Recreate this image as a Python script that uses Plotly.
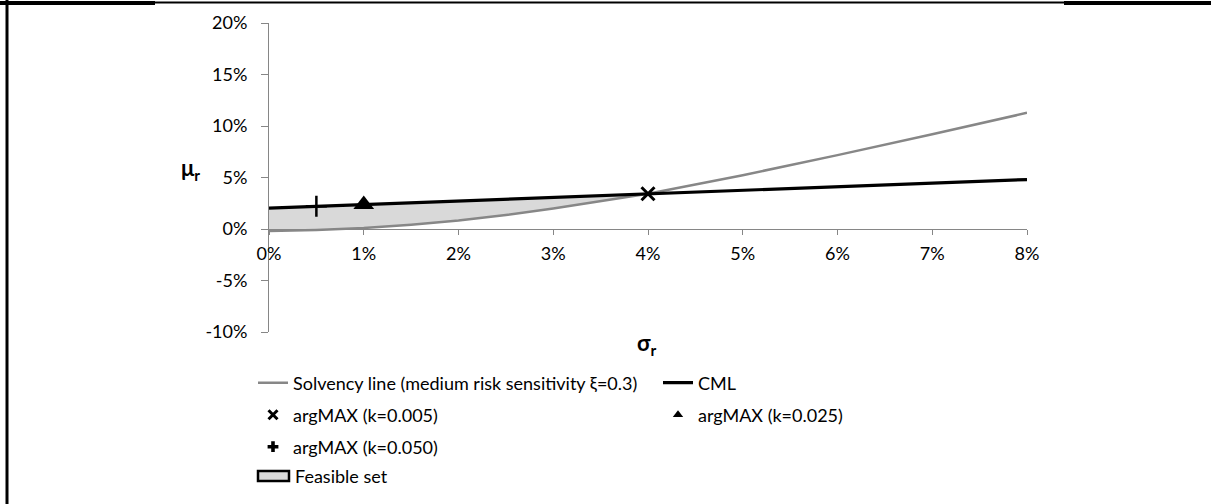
import plotly.graph_objects as go

# ---- data (in percent) ----
solv_sigma = [0, 0.5, 1, 1.5, 2, 2.5, 3, 3.5, 4, 5, 6, 7, 8]
solv_mu = [-0.2, -0.1, 0.1, 0.42, 0.82, 1.36, 1.98, 2.68, 3.42, 5.22, 7.17, 9.2, 11.28]

cml_sigma = [0, 4, 8]
cml_mu = [2.02, 3.42, 4.8]

arg_005 = (4.0, 3.42)
arg_025 = (1.0, 2.37)
arg_050 = (0.5, 2.2)

x_ticks = [0, 1, 2, 3, 4, 5, 6, 7, 8]
x_ticktext = ["0%", "1%", "2%", "3%", "4%", "5%", "6%", "7%", "8%"]
y_ticks = [-10, -5, 0, 5, 10, 15, 20]
y_ticktext = ["-10%", "-5%", "0%", "5%", "10%", "15%", "20%"]

name_solv = "Solvency line (medium risk sensitivity ξ=0.3)"
name_cml = "CML"
name_005 = "argMAX (k=0.005)"
name_025 = "argMAX (k=0.025)"
name_050 = "argMAX (k=0.050)"
name_feas = "Feasible set"

FONT = "Lato"
FS = 18
AXIS_COL = "#868686"
FILL_COL = "#d9d9d9"
SOLV_COL = "#878787"

# feasible region polygon: CML from 0..4 then solvency line back 4..0
cap = arg_005[0]
poly_x = [s for s in cml_sigma if s <= cap] + [s for s in solv_sigma if s <= cap][::-1]
poly_y = [m for s, m in zip(cml_sigma, cml_mu) if s <= cap] + \
         [m for s, m in zip(solv_sigma, solv_mu) if s <= cap][::-1]

fig = go.Figure()

# actual marks
fig.add_trace(go.Scatter(x=poly_x, y=poly_y, fill="toself", fillcolor=FILL_COL,
                         mode="none", showlegend=False, hoverinfo="skip", name=name_feas))
fig.add_trace(go.Scatter(x=solv_sigma, y=solv_mu, mode="lines",
                         line=dict(color=SOLV_COL, width=2.5), showlegend=False))
fig.add_trace(go.Scatter(x=cml_sigma, y=cml_mu, mode="lines",
                         line=dict(color="black", width=3.2), showlegend=False))
fig.add_trace(go.Scatter(x=[arg_005[0]], y=[arg_005[1]], mode="markers",
                         marker=dict(symbol="x-thin", size=13, line=dict(color="black", width=3)),
                         showlegend=False))
fig.add_trace(go.Scatter(x=[arg_025[0]], y=[arg_025[1]], mode="markers",
                         marker=dict(symbol="triangle-up", size=18, color="black"),
                         showlegend=False))
fig.add_trace(go.Scatter(x=[arg_050[0]], y=[arg_050[1]], mode="markers",
                         marker=dict(symbol="cross-thin", size=15, line=dict(color="black", width=2.5)),
                         showlegend=False))

# legend entries (legend-only traces)
fig.add_trace(go.Scatter(x=[None], y=[None], mode="lines", name=name_solv,
                         line=dict(color=SOLV_COL, width=2.5), legend="legend"))
fig.add_trace(go.Scatter(x=[None], y=[None], mode="lines", name=name_cml,
                         line=dict(color="black", width=3.2), legend="legend2"))
fig.add_trace(go.Scatter(x=[None], y=[None], mode="markers", name=name_005,
                         marker=dict(symbol="x-thin", size=9, line=dict(color="black", width=3)),
                         legend="legend3"))
fig.add_trace(go.Scatter(x=[None], y=[None], mode="markers", name=name_025,
                         marker=dict(symbol="triangle-up", size=9, color="black"),
                         legend="legend4"))
fig.add_trace(go.Scatter(x=[None], y=[None], mode="markers", name=name_050,
                         marker=dict(symbol="cross", size=9, color="black"),
                         legend="legend5"))

W, H = 1211, 504
L, R, T, B = 269, 184, 23, 172
PW, PH = W - L - R, H - T - B


def px(p):
    return (p - L) / PW


def py(p):
    return (H - B - p) / PH


leg_common = dict(font=dict(family=FONT, size=FS, color="black"), bgcolor="rgba(0,0,0,0)",
                  xanchor="left", yanchor="middle", borderwidth=0)

ROW1, ROW2, ROW3, ROW4 = 383, 415, 447, 476

fig.update_layout(
    width=W, height=H,
    margin=dict(l=L, r=R, t=T, b=B, pad=0),
    paper_bgcolor="white", plot_bgcolor="white",
    font=dict(family=FONT, size=FS, color="black"),
    xaxis=dict(range=[0, 8], tickvals=x_ticks, ticktext=x_ticktext,
               showgrid=False, zeroline=False, showline=True, linecolor=AXIS_COL, linewidth=1,
               ticks="outside", ticklen=5, tickcolor=AXIS_COL, tickwidth=1,
               anchor="free", position=1 / 3, ticklabelstandoff=3,
               tickfont=dict(family=FONT, size=FS, color="black")),
    yaxis=dict(range=[-10, 20], tickvals=y_ticks, ticktext=y_ticktext, domain=[0, 1],
               showgrid=False, zeroline=False, showline=True, linecolor=AXIS_COL, linewidth=1,
               ticks="outside", ticklen=7, tickcolor=AXIS_COL, tickwidth=1,
               ticklabelstandoff=10,
               tickfont=dict(family=FONT, size=FS, color="black")),
    legend=dict(x=px(253), y=py(ROW1), **leg_common),
    legend2=dict(x=px(658), y=py(ROW1), **leg_common),
    legend3=dict(x=px(253), y=py(ROW2), **leg_common),
    legend4=dict(x=px(658), y=py(ROW2), **leg_common),
    legend5=dict(x=px(253), y=py(ROW3), **leg_common),
    annotations=[
        dict(text="<b>μ<sub>r</sub></b>", xref="paper", yref="paper", x=px(190), y=py(169),
             showarrow=False, font=dict(family=FONT, size=22, color="black"),
             xanchor="center", yanchor="middle"),
        dict(text="<b>σ<sub>r</sub></b>", xref="paper", yref="paper", x=px(647), y=py(344),
             showarrow=False, font=dict(family=FONT, size=22, color="black"),
             xanchor="center", yanchor="middle"),
        dict(text=name_feas, xref="paper", yref="paper", x=px(293), y=py(ROW4),
             showarrow=False, font=dict(family=FONT, size=FS, color="black"),
             xanchor="left", yanchor="middle"),
    ],
    shapes=[
        # legend swatch for the feasible set
        dict(type="rect", xref="paper", yref="paper", x0=px(258), x1=px(289),
             y0=py(ROW4 - 5), y1=py(ROW4 + 5), fillcolor=FILL_COL,
             line=dict(color="black", width=2.5)),
        # page frame
        dict(type="line", xref="paper", yref="paper", x0=px(0), x1=px(155), y0=py(3), y1=py(3),
             line=dict(color="black", width=4)),
        dict(type="line", xref="paper", yref="paper", x0=px(155), x1=px(1064), y0=py(2.5), y1=py(2.5),
             line=dict(color="black", width=2)),
        dict(type="line", xref="paper", yref="paper", x0=px(1064), x1=px(1211), y0=py(3), y1=py(3),
             line=dict(color="black", width=4)),
        dict(type="line", xref="paper", yref="paper", x0=px(7), x1=px(7), y0=py(0), y1=py(504),
             line=dict(color="black", width=3)),
    ],
)

fig.write_html("out.html", post_script="document.body.style.margin='0';",
               config={"displayModeBar": False})
